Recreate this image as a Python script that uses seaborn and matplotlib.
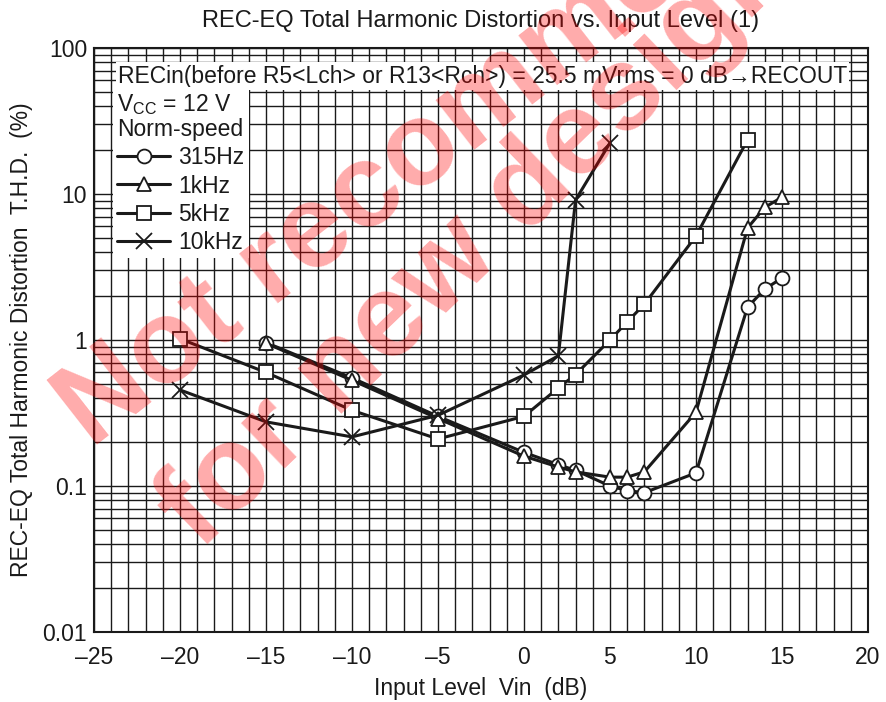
import numpy as np
import pandas as pd
import matplotlib
matplotlib.use('Agg')
import matplotlib.pyplot as plt
import seaborn as sns
from matplotlib.ticker import MultipleLocator, LogLocator, NullFormatter, FixedLocator, FixedFormatter

# ---- data: input level (dB) vs THD (%) ----
vin_315 = [-15, -10, -5, 0, 2, 3, 5, 6, 7, 10, 13, 14, 15]
thd_315 = [0.96, 0.55, 0.30, 0.17, 0.14, 0.128, 0.10, 0.093, 0.09, 0.123, 1.68, 2.23, 2.66]

vin_1k = [-15, -10, -5, 0, 2, 3, 5, 6, 7, 10, 13, 14, 15]
thd_1k = [0.95, 0.53, 0.29, 0.16, 0.135, 0.125, 0.115, 0.115, 0.125, 0.32, 5.85, 8.1, 9.5]

vin_5k = [-20, -15, -10, -5, 0, 2, 3, 5, 6, 7, 10, 13]
thd_5k = [1.02, 0.60, 0.33, 0.21, 0.30, 0.47, 0.58, 1.0, 1.33, 1.76, 5.15, 23.5]

vin_10k = [-20, -15, -10, -5, 0, 2, 3, 5]
thd_10k = [0.455, 0.275, 0.217, 0.305, 0.576, 0.78, 9.1, 22.4]

series_names = ['315Hz', '1kHz', '5kHz', '10kHz']
series_markers = ['o', '^', 's', 'x']

x_ticks = [-25, -20, -15, -10, -5, 0, 5, 10, 15, 20]
x_tick_labels = ['–25', '–20', '–15', '–10', '–5', '0', '5', '10', '15', '20']
y_ticks = [0.01, 0.1, 1, 10, 100]
y_tick_labels = ['0.01', '0.1', '1', '10', '100']

# long table for seaborn
df = pd.concat([
    pd.DataFrame({'vin': v, 'thd': t, 'freq': n})
    for v, t, n in zip([vin_315, vin_1k, vin_5k, vin_10k],
                       [thd_315, thd_1k, thd_5k, thd_10k], series_names)
])

sns.set_style('white')
plt.rcParams['font.family'] = ['Liberation Sans', 'DejaVu Sans']
plt.rcParams['mathtext.default'] = 'regular'
plt.rcParams['font.size'] = 16.5

FS = 16.5
INK = '#1a1a1a'

fig = plt.figure(figsize=(8.87, 7.02), dpi=100)
ax = fig.add_axes([0.106, 0.0997, 0.8725, 0.8319])

for name, mk in zip(series_names, series_markers):
    sub = df[df['freq'] == name]
    if mk == 'x':
        sns.lineplot(data=sub, x='vin', y='thd', ax=ax, color=INK, linewidth=2.2,
                     marker='x', markersize=11, markeredgewidth=1.3, markeredgecolor=INK,
                     label=name, zorder=4)
    else:
        sns.lineplot(data=sub, x='vin', y='thd', ax=ax, color=INK, linewidth=2.2,
                     marker=mk, markersize=10, markerfacecolor='white', markeredgecolor=INK,
                     markeredgewidth=1.3, label=name, zorder=4)

ax.set_yscale('log')
ax.set_xlim(-25, 20)
ax.set_ylim(0.01, 100)

ax.xaxis.set_major_locator(FixedLocator(x_ticks))
ax.xaxis.set_major_formatter(FixedFormatter(x_tick_labels))
ax.xaxis.set_minor_locator(MultipleLocator(1))
ax.yaxis.set_major_locator(FixedLocator(y_ticks))
ax.yaxis.set_major_formatter(FixedFormatter(y_tick_labels))
ax.yaxis.set_minor_locator(LogLocator(base=10, subs=np.arange(2, 10), numticks=20))
ax.yaxis.set_minor_formatter(NullFormatter())

ax.grid(True, which='both', color=INK, linewidth=1.0)
ax.set_axisbelow(True)
ax.tick_params(which='both', length=0, labelsize=FS, colors=INK)
ax.tick_params(axis='x', pad=10)
ax.tick_params(axis='y', pad=5)
for sp in ax.spines.values():
    sp.set_color(INK)
    sp.set_linewidth(1.5)

ax.set_title('REC-EQ Total Harmonic Distortion vs. Input Level (1)', fontsize=17, pad=15, color=INK)
ax.set_xlabel('Input Level  Vin  (dB)', fontsize=FS, labelpad=6, color=INK)
ax.set_ylabel('REC-EQ Total Harmonic Distortion  T.H.D.  (%)', fontsize=FS, labelpad=7, color=INK)

# condition notes + legend
ax.text(0.031, 0.952, 'RECin(before R5<Lch> or R13<Rch>) = 25.5 mVrms = 0 dB→RECOUT',
        transform=ax.transAxes, ha='left', va='center', fontsize=FS, color=INK,
        bbox=dict(facecolor='white', edgecolor='none', pad=1.5), zorder=6)

handles, labels = ax.get_legend_handles_labels()
leg = ax.legend(handles, labels, title='$V_{CC}$ = 12 V\nNorm-speed', alignment='left',
                loc='upper left', bbox_to_anchor=(0.024, 0.933), frameon=True,
                facecolor='white', edgecolor='none', framealpha=1, fancybox=False,
                borderpad=0.2, handlelength=2.3, handletextpad=0.35, labelspacing=0.22,
                borderaxespad=0, fontsize=FS, title_fontsize=FS)
leg.get_title().set_color(INK)
leg.get_title().set_linespacing(1.1)
for t in leg.get_texts():
    t.set_color(INK)
leg.set_zorder(6)

# watermark
fig.text(0.103, 0.36, 'Not recommended', fontsize=85, fontweight='bold', color='red',
         alpha=0.33, rotation=38, rotation_mode='anchor', ha='left', va='baseline', zorder=10)
fig.text(0.225, 0.215, 'for new designs', fontsize=85, fontweight='bold', color='red',
         alpha=0.33, rotation=44, rotation_mode='anchor', ha='left', va='baseline', zorder=10)

fig.savefig('out.png', dpi=100)
